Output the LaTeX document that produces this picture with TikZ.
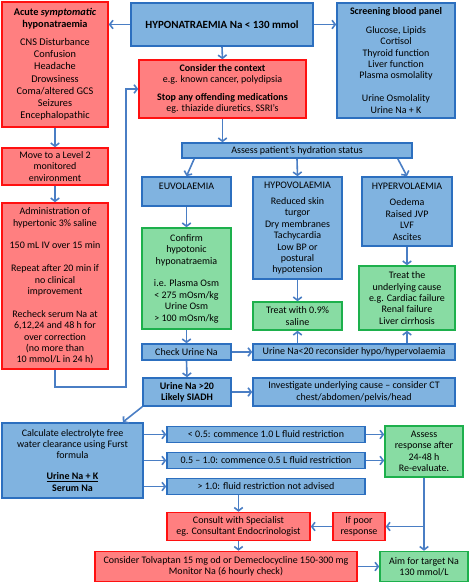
\documentclass[tikz,border=0pt]{standalone}
\usepackage{fontspec}
\setmainfont{Carlito}
\usetikzlibrary{arrows.meta}
\definecolor{redfill}{HTML}{FF7F80}
\definecolor{redline}{HTML}{FF1010}
\definecolor{bluefill}{HTML}{80B3E0}
\definecolor{blueline}{HTML}{2C6FBF}
\definecolor{greenfill}{HTML}{88DCA3}
\definecolor{greenline}{HTML}{1DB04C}
\definecolor{arrowblue}{HTML}{4A7EC4}
\begin{document}
\begin{tikzpicture}[x=1pt,y=-1pt,
    box/.style={line width=1.6pt,align=center,inner sep=1pt,font=\fontsize{10}{11.4}\selectfont},
    redbox/.style={box,draw=redline,fill=redfill},
    bluebox/.style={box,draw=blueline,fill=bluefill},
    greenbox/.style={box,draw=greenline,fill=greenfill},
    arr/.style={draw=arrowblue,line width=1.6pt,-{Straight Barb[length=3.2pt,width=8.5pt]}}]
    \useasboundingbox (0,0) rectangle (469,583);
    \node[redbox,minimum width=106pt,minimum height=125pt,font=\fontsize{10.3}{12.3}\selectfont] (acute) at (55,64.5)
        {\textbf{Acute \textit{symptomatic}}\\\textbf{hyponatraemia}\\[5pt]CNS Disturbance\\Confusion\\Headache\\Drowsiness\\Coma/altered GCS\\Seizures\\Encephalopathic};
    \node[bluebox,minimum width=182pt,minimum height=43pt,font=\fontsize{11}{12}\selectfont] (hypo) at (222,24.5)
        {\textbf{HYPONATRAEMIA Na < 130 mmol}};
    \node[bluebox,minimum width=118pt,minimum height=115pt] (screen) at (396,60.5)
        {\textbf{Screening blood panel}\\[7pt]Glucose, Lipids\\Cortisol\\Thyroid function\\Liver function\\Plasma osmolality\\[11.4pt]Urine Osmolality\\Urine Na + K};
    \node[redbox,minimum width=167pt,minimum height=58pt] (context) at (222.5,89)
        {\textbf{Consider the context}\\e.g. known cancer, polydipsia\\[6pt]\textbf{Stop any offending medications}\\eg. thiazide diuretics, SSRI’s};
    \node[redbox,minimum width=106pt,minimum height=37pt] (level2) at (55,166.5)
        {Move to a Level 2\\monitored\\environment};
    \node[redbox,minimum width=106pt,minimum height=166pt] (saline) at (55,286)
        {Administration of\\hypertonic 3\% saline\\[11.4pt]150 mL IV over 15 min\\[11.4pt]Repeat after 20 min if\\no clinical\\improvement\\[11.4pt]Recheck serum Na at\\6,12,24 and 48 h for\\over correction\\(no more than\\10 mmol/L in 24 h)};
    \node[bluebox,minimum width=230pt,minimum height=15pt] (assess) at (297,150.5) {Assess patient’s hydration status};
    \node[bluebox,minimum width=89pt,minimum height=29pt] (euvo) at (186.5,191.5) {EUVOLAEMIA\\\mbox{}};
    \node[bluebox,minimum width=89pt,minimum height=102pt] (hypovo) at (297.5,228)
        {HYPOVOLAEMIA\\[5pt]Reduced skin\\turgor\\Dry membranes\\Tachycardia\\Low BP or\\postural\\hypotension};
    \node[bluebox,minimum width=90pt,minimum height=69pt] (hypervo) at (407,211.5)
        {HYPERVOLAEMIA\\[5pt]Oedema\\Raised JVP\\LVF\\Ascites};
    \node[greenbox,minimum width=89pt,minimum height=101pt] (confirm) at (186.5,278.5)
        {Confirm\\hypotonic\\hyponatraemia\\[11.4pt]i.e. Plasma Osm\\< 275 mOsm/kg\\Urine Osm\\> 100 mOsm/kg};
    \node[greenbox,minimum width=89pt,minimum height=28pt] (treatsal) at (297.5,316) {Treat with 0.9\%\\saline};
    \node[greenbox,minimum width=96pt,minimum height=64pt] (treatcause) at (407,298)
        {Treat the\\underlying cause\\e.g. Cardiac failure\\Renal failure\\Liver cirrhosis};
    \node[bluebox,minimum width=89pt,minimum height=16pt] (checkna) at (186.5,352) {Check Urine Na};
    \node[bluebox,minimum width=202pt,minimum height=16pt] (lowna) at (354,352) {Urine Na<20 reconsider hypo/hypervolaemia};
    \node[bluebox,minimum width=88pt,minimum height=28pt] (siadh) at (187,392) {\textbf{Urine Na >20}\\\textbf{Likely SIADH}};
    \node[bluebox,minimum width=202pt,minimum height=28pt] (investigate) at (354,392)
        {Investigate underlying cause – consider CT\\chest/abdomen/pelvis/head};
    \node[bluebox,minimum width=141pt,minimum height=75pt] (furst) at (72.5,460.5)
        {Calculate electrolyte free\\water clearance using Furst\\formula\\[9pt]\underline{\textbf{Urine Na + K}}\\[1pt]\textbf{Serum Na}};
    \node[bluebox,minimum width=198pt,minimum height=16pt] (lt05) at (266,434.5) {< 0.5: commence 1.0 L fluid restriction};
    \node[bluebox,minimum width=198pt,minimum height=16pt] (mid) at (266,460.5) {0.5 – 1.0: commence 0.5 L fluid restriction};
    \node[bluebox,minimum width=198pt,minimum height=16pt] (gt10) at (266,486.5) {> 1.0: fluid restriction not advised};
    \node[greenbox,minimum width=78pt,minimum height=51pt] (assessresp) at (424,451.5)
        {Assess\\response after\\24-48 h\\Re-evaluate.};
    \node[redbox,minimum width=143pt,minimum height=28pt] (consult) at (238.5,526.5)
        {Consult with Specialist\\eg. Consultant Endocrinologist};
    \node[redbox,minimum width=52pt,minimum height=28pt] (poor) at (359,526.5) {If poor\\response};
    \node[redbox,minimum width=262pt,minimum height=30pt] (tolvaptan) at (226,566.5)
        {Consider Tolvaptan 15 mg od or Demeclocycline 150-300 mg\\Monitor Na (6 hourly check)};
    \node[greenbox,minimum width=88pt,minimum height=30pt] (aim) at (424,566.5) {Aim for target Na\\130 mmol/L};

    \draw[arr] (hypo.west) -- (hypo.west -| acute.east);
    \draw[arr] (hypo.east) -- (hypo.east -| screen.west);
    \draw[arr] (hypo.south) -- (context.north);
    \draw[arr] (acute.south) -- (level2.north);
    \draw[arr] (level2.south) -- (saline.north);
    \draw[arr] (saline.south) -- ++(0,17) -| ([xshift=-12pt]context.west) -- (context.west);
    \draw[arr] (context.south) -- (context.south |- assess.north);
    \draw[arr] ([xshift=13pt]assess.south west) -- (euvo.north);
    \draw[arr] (assess.south) -- (hypovo.north);
    \draw[arr] ([xshift=-15pt]assess.south east) -- (hypervo.north);
    \draw[arr] (euvo.south) -- (confirm.north);
    \draw[arr] (hypovo.south) -- (treatsal.north);
    \draw[arr] (hypervo.south) -- (treatcause.north);
    \draw[arr] (confirm.south) -- (checkna.north);
    \draw[arr] (checkna.east) -- (lowna.west);
    \draw[arr] (treatsal.south |- lowna.north) -- (treatsal.south);
    \draw[arr] (treatcause.south |- lowna.north) -- (treatcause.south);
    \draw[arr] (checkna.south) -- (siadh.north);
    \draw[arr] (siadh.east) -- (investigate.west);
    \draw[arr] (siadh.south west) -- ([xshift=-21pt]furst.north east);
    \draw[arr] (furst.east |- lt05.west) -- (lt05.west);
    \draw[arr] (furst.east |- mid.west) -- (mid.west);
    \draw[arr] (furst.east |- gt10.west) -- (gt10.west);
    \draw[arr] (lt05.east) -- (lt05.east -| assessresp.west);
    \draw[arr] (mid.east) -- (mid.east -| assessresp.west);
    \draw[arr] (consult.north |- gt10.south) -- (consult.north);
    \draw[arr] (assessresp.south) -- (aim.north);
    \coordinate (split) at (assessresp.south |- poor.east);
    \draw[arr] (split) -- (poor.east);
    \draw[arr] (poor.west) -- (consult.east);
    \draw[arr] (consult.south) -- (consult.south |- tolvaptan.north);
    \draw[arr] (tolvaptan.east) -- (aim.west);
\end{tikzpicture}
\end{document}
